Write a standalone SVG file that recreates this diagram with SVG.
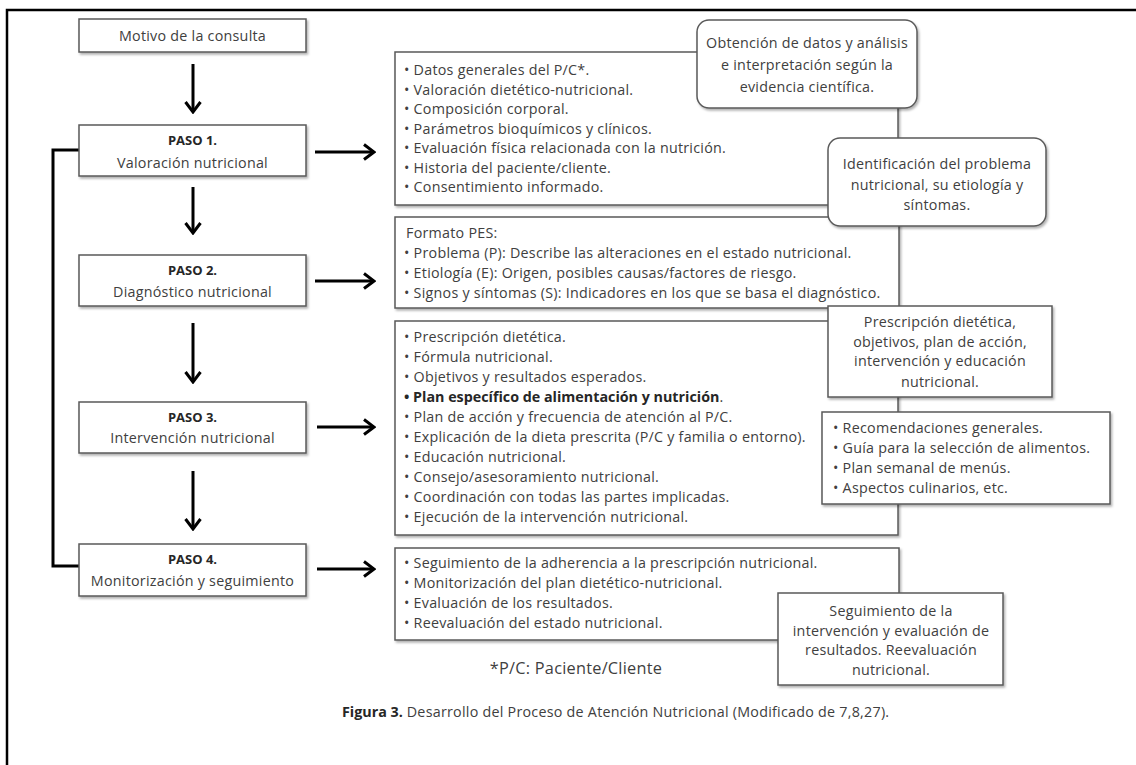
<svg xmlns="http://www.w3.org/2000/svg" width="1136" height="765" viewBox="0 0 1136 765">
<defs>
<style>
.bx{fill:#fff;stroke:#5a5a5a;stroke-width:1.5;filter:url(#sh)}
.t{font-family:"Open Sans","Noto Sans",sans-serif;font-size:14.3px;letter-spacing:0.25px;fill:#404040}
.c{text-anchor:middle}
.b{font-weight:bold;fill:#262626;letter-spacing:0}
.p{font-size:13px}
.arr{fill:none;stroke:#000;stroke-width:3}
.thin{fill:none;stroke:#555;stroke-width:1.2}
</style>
<filter id="sh" x="-5%" y="-10%" width="115%" height="130%">
<feDropShadow dx="1.5" dy="2" stdDeviation="1.2" flood-color="#000" flood-opacity="0.3"/>
</filter>
<marker id="ah" viewBox="0 0 14 18" refX="12" refY="9" markerWidth="14" markerHeight="18" markerUnits="userSpaceOnUse" orient="auto">
<path d="M2,1.5 L12,9 L2,16.5" fill="none" stroke="#000" stroke-width="3"/>
</marker>
<marker id="aht" viewBox="0 0 10 10" refX="9" refY="5" markerWidth="10" markerHeight="10" markerUnits="userSpaceOnUse" orient="auto">
<path d="M1,1 L9,5 L1,9" fill="none" stroke="#555" stroke-width="1.2"/>
</marker>
</defs>
<rect x="0" y="0" width="1136" height="765" fill="#fff"/>
<rect x="7" y="10" width="1200" height="800" fill="none" stroke="#000" stroke-width="2.5"/>

<g id="connectors">
<line class="arr" x1="193" y1="64" x2="193" y2="112" marker-end="url(#ah)"/>
<line class="arr" x1="193" y1="187" x2="193" y2="233" marker-end="url(#ah)"/>
<line class="arr" x1="193" y1="323" x2="193" y2="382" marker-end="url(#ah)"/>
<line class="arr" x1="193" y1="471" x2="193" y2="529" marker-end="url(#ah)"/>
<line class="arr" x1="315" y1="152" x2="374" y2="152" marker-end="url(#ah)"/>
<line class="arr" x1="315" y1="281" x2="374" y2="281" marker-end="url(#ah)"/>
<line class="arr" x1="317" y1="427" x2="374" y2="427" marker-end="url(#ah)"/>
<line class="arr" x1="317" y1="569" x2="374" y2="569" marker-end="url(#ah)"/>
<polyline class="arr" points="95,566 53,566 53,150 108,150" marker-end="url(#ah)"/>
<path class="thin" d="M731,398 Q774,400 813,411" marker-end="url(#aht)"/>
</g>

<g id="motivo">
<rect class="bx" x="79" y="19" width="227" height="33"/>
<text class="t c" x="192.5" y="41">Motivo de la consulta</text>
</g>
<g id="paso1">
<rect class="bx" x="79" y="125" width="227" height="51"/>
<text class="t c b p" x="192.5" y="145">PASO 1.</text>
<text class="t c" x="192.5" y="168">Valoración nutricional</text>
</g>
<g id="paso2">
<rect class="bx" x="79" y="255" width="227" height="51"/>
<text class="t c b p" x="192.5" y="275">PASO 2.</text>
<text class="t c" x="192.5" y="297">Diagnóstico nutricional</text>
</g>
<g id="paso3">
<rect class="bx" x="79" y="402" width="227" height="51"/>
<text class="t c b p" x="192.5" y="422">PASO 3.</text>
<text class="t c" x="192.5" y="443">Intervención nutricional</text>
</g>
<g id="paso4">
<rect class="bx" x="79" y="544" width="227" height="52"/>
<text class="t c b p" x="192.5" y="564">PASO 4.</text>
<text class="t c" x="192.5" y="586">Monitorización y seguimiento</text>
</g>

<g id="valoracion-detalle">
<rect class="bx" x="395" y="52" width="503" height="153"/>
<text class="t" x="404" y="75">• Datos generales del P/C*.</text>
<text class="t" x="404" y="94.5">• Valoración dietético-nutricional.</text>
<text class="t" x="404" y="114">• Composición corporal.</text>
<text class="t" x="404" y="133.5">• Parámetros bioquímicos y clínicos.</text>
<text class="t" x="404" y="153">• Evaluación física relacionada con la nutrición.</text>
<text class="t" x="404" y="172.5">• Historia del paciente/cliente.</text>
<text class="t" x="404" y="192">• Consentimiento informado.</text>
</g>
<g id="diagnostico-detalle">
<rect class="bx" x="395" y="217" width="504" height="91"/>
<text class="t" x="406" y="238">Formato PES:</text>
<text class="t" x="404" y="258">• Problema (P): Describe las alteraciones en el estado nutricional.</text>
<text class="t" x="404" y="278">• Etiología (E): Origen, posibles causas/factores de riesgo.</text>
<text class="t" x="404" y="298">• Signos y síntomas (S): Indicadores en los que se basa el diagnóstico.</text>
</g>
<g id="intervencion-detalle">
<rect class="bx" x="395" y="321" width="503" height="214"/>
<text class="t" x="404" y="342">• Prescripción dietética.</text>
<text class="t" x="404" y="362">• Fórmula nutricional.</text>
<text class="t" x="404" y="382">• Objetivos y resultados esperados.</text>
<text class="t" x="404" y="402"><tspan class="b">• Plan específico de alimentación y nutrición</tspan>.</text>
<text class="t" x="404" y="422">• Plan de acción y  frecuencia de atención al P/C.</text>
<text class="t" x="404" y="442">• Explicación de la dieta prescrita (P/C y familia o entorno).</text>
<text class="t" x="404" y="462">• Educación nutricional.</text>
<text class="t" x="404" y="482">• Consejo/asesoramiento nutricional.</text>
<text class="t" x="404" y="502">• Coordinación con todas las partes implicadas.</text>
<text class="t" x="404" y="522">• Ejecución de la intervención nutricional.</text>
</g>
<g id="monitorizacion-detalle">
<rect class="bx" x="395" y="548" width="504" height="92"/>
<text class="t" x="404" y="568">• Seguimiento de la adherencia a la prescripción nutricional.</text>
<text class="t" x="404" y="588">• Monitorización  del plan dietético-nutricional.</text>
<text class="t" x="404" y="608">• Evaluación de los resultados.</text>
<text class="t" x="404" y="628">• Reevaluación del estado nutricional.</text>
</g>

<g id="nota-obtencion">
<rect class="bx" x="697" y="20" width="220" height="88" rx="12"/>
<text class="t c" x="807" y="48">Obtención de datos y análisis</text>
<text class="t c" x="807" y="70">e interpretación según la</text>
<text class="t c" x="807" y="92">evidencia científica.</text>
</g>
<g id="nota-identificacion">
<rect class="bx" x="828" y="138" width="218" height="88" rx="12"/>
<text class="t c" x="937" y="169">Identificación del problema</text>
<text class="t c" x="937" y="190">nutricional, su etiología y</text>
<text class="t c" x="937" y="210">síntomas.</text>
</g>
<g id="nota-prescripcion">
<rect class="bx" x="828" y="306" width="224" height="91"/>
<text class="t c" x="940" y="327">Prescripción dietética,</text>
<text class="t c" x="940" y="347">objetivos, plan de acción,</text>
<text class="t c" x="940" y="366">intervención y educación</text>
<text class="t c" x="940" y="387">nutricional.</text>
</g>
<g id="plan-detalle">
<rect class="bx" x="822" y="412" width="288" height="92"/>
<text class="t" x="833" y="433">• Recomendaciones generales.</text>
<text class="t" x="833" y="453">• Guía para la selección de alimentos.</text>
<text class="t" x="833" y="473">• Plan semanal de menús.</text>
<text class="t" x="833" y="493">• Aspectos culinarios, etc.</text>
</g>
<g id="nota-seguimiento">
<rect class="bx" x="778" y="593" width="225" height="92"/>
<text class="t c" x="891" y="616">Seguimiento de la</text>
<text class="t c" x="891" y="636">intervención y evaluación de</text>
<text class="t c" x="891" y="655">resultados. Reevaluación</text>
<text class="t c" x="891" y="675">nutricional.</text>
</g>

<g id="notas">
<text class="t c" x="576" y="674" style="font-size:16.3px">*P/C: Paciente/Cliente</text>
<text class="t" x="342" y="717"><tspan class="b">Figura 3.</tspan> Desarrollo del Proceso de Atención Nutricional (Modificado de 7,8,27).</text>
</g>
</svg>
